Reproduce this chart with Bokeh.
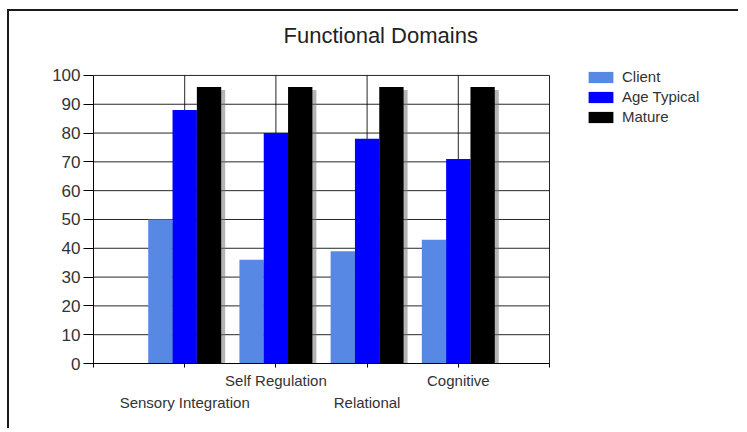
import numpy as np
from bokeh.plotting import figure
from bokeh.models import Range1d, FixedTicker, LinearAxis, Legend, LegendItem, Title
from bokeh.embed import file_html
from bokeh.resources import INLINE

# ---- data ----
categories = ["Sensory Integration", "Self Regulation", "Relational", "Cognitive"]
series_names = ["Client", "Age Typical", "Mature"]
client = [50, 36, 39, 43]
age_typical = [88, 80, 78, 71]
mature = [96, 96, 96, 96]
y_ticks = [0, 10, 20, 30, 40, 50, 60, 70, 80, 90, 100]

FONT = "Liberation Sans"
TXT = "#333333"
colors = ["#5788E3", "#0000FF", "#000000"]

n = len(categories)
x_hi = n + 1
y_hi = max(y_ticks)

# layout (pixels)
W, H = 731, 419
B_LEFT, B_TOP, B_BOTTOM = 84, 44, 67
AREA_W = 456            # width of the boxed chart area
AREA_H = 289            # height of the boxed chart area
frame_w = W - B_LEFT
frame_h = H - B_TOP - B_BOTTOM

p = figure(width=W, height=H, output_backend="svg", toolbar_location=None,
           x_range=Range1d(0, x_hi * frame_w / AREA_W),
           y_range=Range1d(0, y_hi * frame_h / AREA_H),
           min_border_left=B_LEFT, min_border_right=0,
           min_border_top=B_TOP, min_border_bottom=B_BOTTOM)
p.styles = {"margin-left": "7px", "margin-top": "9px",
            "border-left": "2px solid #1a1a1a", "border-top": "2px solid #1a1a1a"}
p.title = Title(text="Functional Domains", align="left", text_font=FONT,
                text_font_size="22px", text_font_style="normal", text_color="#222222",
                offset=190, standoff=18)
p.background_fill_color = "white"
p.border_fill_color = "white"
p.outline_line_color = None
p.xgrid.grid_line_color = None
p.ygrid.grid_line_color = None

# x axis (near) : boundaries + upper staggered labels
xa = p.xaxis[0]
xa.bounds = (0, x_hi)
xa.ticker = FixedTicker(ticks=list(range(0, x_hi + 1)))
over_hi = {k: "" for k in range(0, x_hi + 1)}
over_lo = {}
for i, c in enumerate(categories):
    if i % 2 == 1:
        over_hi[i + 1] = c
    else:
        over_lo[i + 1] = c
xa.major_label_overrides = over_hi
xa.major_tick_out = 4
xa.major_tick_in = 0
xa.minor_tick_line_color = None
xa.axis_line_color = "black"
xa.major_tick_line_color = "black"
xa.major_label_standoff = 4
xa.major_label_text_font = FONT
xa.major_label_text_font_size = "15px"
xa.major_label_text_color = TXT

xa2 = LinearAxis(ticker=FixedTicker(ticks=[k for k in over_lo]),
                 major_label_overrides=over_lo, axis_line_color=None,
                 major_tick_line_color=None, minor_tick_line_color=None,
                 major_tick_out=0, major_tick_in=0, major_label_standoff=2,
                 major_label_text_font=FONT, major_label_text_font_size="15px",
                 major_label_text_color=TXT)
p.add_layout(xa2, "below")

ya = p.yaxis[0]
ya.bounds = (0, y_hi)
ya.ticker = FixedTicker(ticks=y_ticks)
ya.major_tick_out = 10
ya.major_tick_in = 0
ya.minor_tick_line_color = None
ya.axis_line_color = "black"
ya.major_tick_line_color = "black"
ya.major_label_standoff = 3
ya.major_label_text_font = FONT
ya.major_label_text_font_size = "17px"
ya.major_label_text_color = TXT

# grid lines of the boxed area (behind the bars)
gx = list(range(1, x_hi + 1))
p.segment(x0=[0] * len(y_ticks), x1=[x_hi] * len(y_ticks), y0=y_ticks, y1=y_ticks,
          line_color="black", line_alpha=0.85, line_width=1)
p.segment(x0=gx, x1=gx, y0=[0] * len(gx), y1=[y_hi] * len(gx),
          line_color="black", line_alpha=0.85, line_width=1)

# bars
bw = 0.8 / 3
centers = np.arange(1, n + 1)
offsets = [-bw, 0.0, bw]
series = [client, age_typical, mature]
px_x = AREA_W / x_hi
px_y = AREA_H / y_hi
dx = 4 / px_x
dy = 3 / px_y
for vals, off in zip(series, offsets):
    v = np.array(vals, dtype=float)
    p.vbar(x=centers + off + dx, top=v - dy, bottom=-5, width=bw,
           fill_color="#777777", fill_alpha=0.55, line_color=None)
rends = []
for vals, off, col in zip(series, offsets, colors):
    r = p.vbar(x=centers + off, top=vals, bottom=0, width=bw,
               fill_color=col, line_color=None)
    rends.append(r)

legend = Legend(items=[LegendItem(label=s, renderers=[r]) for s, r in zip(series_names, rends)],
                location=(492, 238), glyph_width=31, glyph_height=14, label_height=14,
                spacing=3, padding=0, margin=0, border_line_color=None,
                background_fill_alpha=0, label_text_font=FONT, label_text_font_size="15px",
                label_text_color=TXT, label_standoff=6)
p.add_layout(legend)

open("out.html", "w").write(file_html(p, INLINE))
